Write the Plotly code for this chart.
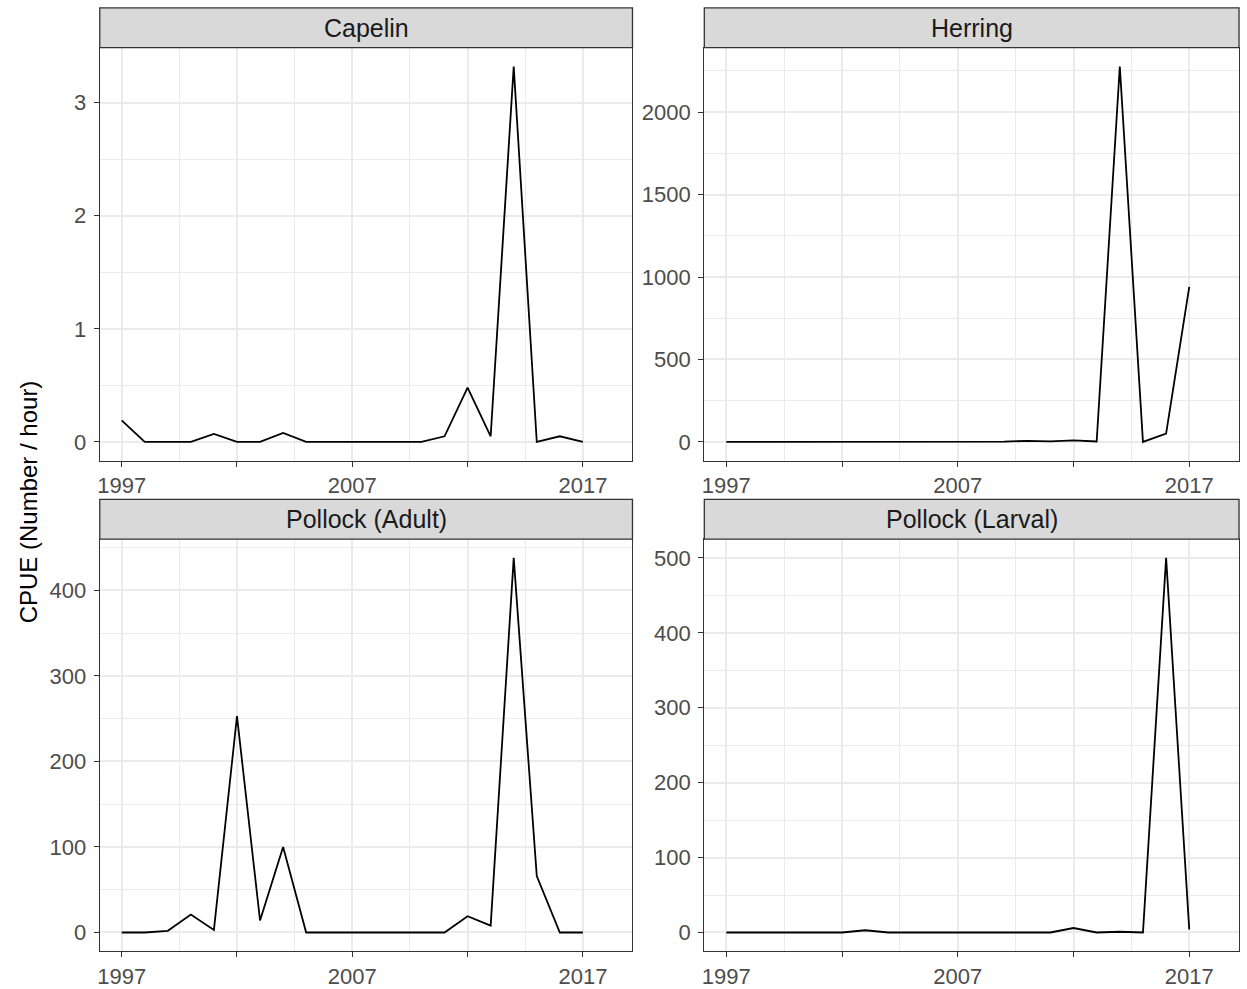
import plotly.graph_objects as go

# Annual catch per unit effort, 1997-2017
years = list(range(1997, 2018))
capelin = [0.19, 0, 0, 0, 0.07, 0, 0, 0.08, 0, 0, 0, 0, 0, 0, 0.05, 0.48, 0.05, 3.32, 0, 0.05, 0]
herring = [0, 0, 0, 0, 0, 0, 0, 0, 0, 4, 4, 2, 2, 6, 4, 10, 3, 2277, 0, 50, 940]
pollock_adult = [0, 0, 2, 21, 3, 253, 14, 100, 0, 0, 0, 0, 0, 0, 0, 19, 8, 438, 66, 0, 0]
pollock_larval = [0, 0, 0, 0, 0, 0, 3, 0, 0, 0, 0, 0, 0, 0, 0, 6, 0, 1, 0, 500, 4]

panel_titles = ["Capelin", "Herring", "Pollock (Adult)", "Pollock (Larval)"]
panel_series = [capelin, herring, pollock_adult, pollock_larval]
y_major = [[0, 1, 2, 3], [0, 500, 1000, 1500, 2000], [0, 100, 200, 300, 400], [0, 100, 200, 300, 400, 500]]
y_minor = [[0.5, 1.5, 2.5, 3.5], [250, 750, 1250, 1750, 2250], [50, 150, 250, 350, 450], [50, 150, 250, 350, 450]]
x_major = [1997, 2002, 2007, 2012, 2017]
x_labels = ["1997", "", "2007", "", "2017"]
x_minor = [1999.5, 2004.5, 2009.5, 2014.5]
y_label = "CPUE (Number / hour)"

W, H = 1247, 989
FONT = "Liberation Sans, Arial, sans-serif"
GRID = "#EBEBEB"
BORDER = "#333333"

# panel rectangles in pixels: (left, right) per column, (top, bottom) per row
cols = [(97, 631), (703, 1239)]
rows = [(48, 464), (543, 958)]
strip_h = 40

fig = go.Figure()
shapes = []
annotations = []

for i, (title, ys) in enumerate(zip(panel_titles, panel_series)):
    r, c = divmod(i, 2)
    x0, x1 = cols[c]
    top, bot = rows[r]
    n = i + 1
    xa = "xaxis" if n == 1 else f"xaxis{n}"
    ya = "yaxis" if n == 1 else f"yaxis{n}"
    xref = "x" if n == 1 else f"x{n}"
    yref = "y" if n == 1 else f"y{n}"

    fig.add_trace(go.Scatter(
        x=years, y=ys, mode="lines",
        line=dict(color="black", width=1.8),
        xaxis=xref, yaxis=yref, showlegend=False,
    ))

    ymax = max(ys)
    pad = 0.05 * ymax
    fig.layout[xa] = dict(
        domain=[x0 / W, x1 / W],
        anchor=yref,
        range=[1996.05, 2019.15],
        tickmode="array", tickvals=x_major, ticktext=x_labels,
        ticks="outside", ticklen=5, tickwidth=1.2, tickcolor=BORDER,
        showgrid=True, gridcolor=GRID, gridwidth=1.8,
        minor=dict(tickmode="array", tickvals=x_minor, showgrid=True,
                   gridcolor=GRID, gridwidth=1.1, ticks=""),
        showline=True, mirror=True, linecolor=BORDER, linewidth=1.3,
        zeroline=False,
        tickfont=dict(family=FONT, size=22, color="#4D4D4D"),
        fixedrange=True,
    )
    fig.layout[ya] = dict(
        domain=[(H - bot) / H, (H - top) / H],
        anchor=xref,
        range=[-pad, ymax + pad],
        tickmode="array", tickvals=y_major[i],
        ticks="outside", ticklen=5, tickwidth=1.2, tickcolor=BORDER,
        ticklabelstandoff=3,
        showgrid=True, gridcolor=GRID, gridwidth=1.8,
        minor=dict(tickmode="array", tickvals=y_minor[i], showgrid=True,
                   gridcolor=GRID, gridwidth=1.1, ticks=""),
        showline=True, mirror=True, linecolor=BORDER, linewidth=1.3,
        zeroline=False,
        tickfont=dict(family=FONT, size=22, color="#4D4D4D"),
        fixedrange=True,
    )

    # facet strip above each panel
    s_top = top - strip_h
    shapes.append(dict(
        type="rect", xref="paper", yref="paper",
        x0=x0 / W, x1=x1 / W, y0=(H - top) / H, y1=(H - s_top) / H,
        fillcolor="#D9D9D9", line=dict(color=BORDER, width=1.3), layer="above",
    ))
    annotations.append(dict(
        text=title, xref="paper", yref="paper",
        x=(x0 + x1) / 2 / W, y=(H - (top + s_top) / 2) / H,
        xanchor="center", yanchor="middle", showarrow=False,
        font=dict(family=FONT, size=25, color="#1A1A1A"),
    ))

annotations.append(dict(
    text=y_label, xref="paper", yref="paper",
    x=25 / W, y=(H - 505) / H, textangle=-90,
    xanchor="center", yanchor="middle", showarrow=False,
    font=dict(family=FONT, size=24, color="black"),
))

fig.update_layout(
    width=W, height=H,
    margin=dict(l=0, r=0, t=0, b=0),
    paper_bgcolor="white", plot_bgcolor="white",
    shapes=shapes, annotations=annotations,
    showlegend=False,
)

fig.write_html("out.html")
